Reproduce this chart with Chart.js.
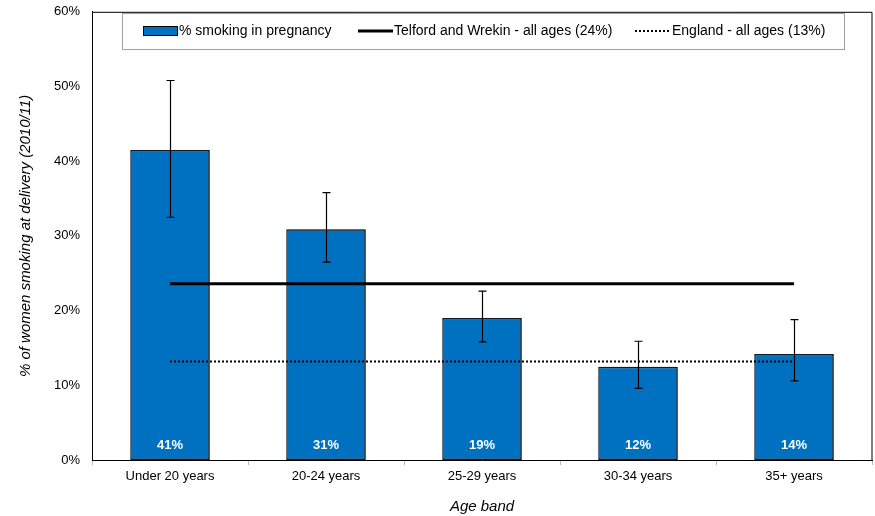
<!DOCTYPE html>
<html>
<head>
<meta charset="utf-8">
<script src="https://cdn.jsdelivr.net/npm/chart.js@4.4.0/dist/chart.umd.min.js"></script>
<style>
  html, body { margin: 0; padding: 0; background: #fff; }
  #wrap { width: 875px; height: 516px; position: relative; }
</style>
</head>
<body>
<div id="wrap"><canvas id="chart"></canvas></div>
<script>
const ageBands = ['Under 20 years', '20-24 years', '25-29 years', '30-34 years', '35+ years'];
const smokingPct = [41.5, 30.9, 19.0, 12.5, 14.2];
const errLow = [32.5, 26.5, 15.8, 9.6, 10.6];
const errHigh = [50.8, 35.8, 22.6, 15.9, 18.8];
const barLabels = ['41%', '31%', '19%', '12%', '14%'];
const telfordAll = [23.6, 23.6, 23.6, 23.6, 23.6];
const englandAll = [13.2, 13.2, 13.2, 13.2, 13.2];
const yTicks = [0, 10, 20, 30, 40, 50, 60];

const FONT = '"Liberation Sans", Arial, sans-serif';
const BLUE = '#0070c0';

// grey drop shadow on the bars, like the original
const barShadow = {
  id: 'barShadow',
  beforeDatasetDraw(chart, args) {
    if (args.index !== 0) return;
    const ctx = chart.ctx;
    ctx.save();
    ctx.shadowColor = 'rgba(0,0,0,0.3)';
    ctx.shadowOffsetX = 2;
    ctx.shadowOffsetY = 0;
    ctx.shadowBlur = 0;
  },
  afterDatasetDraw(chart, args) {
    if (args.index !== 0) return;
    chart.ctx.restore();
  }
};

// error bars + value labels inside bars
const barExtras = {
  id: 'barExtras',
  afterDatasetsDraw(chart) {
    const { ctx, scales: { x, y } } = chart;
    const meta = chart.getDatasetMeta(0);
    ctx.save();
    ctx.strokeStyle = '#000';
    ctx.lineWidth = 1.2;
    meta.data.forEach((bar, i) => {
      const cx = Math.round(bar.x) + 0.5;
      const yt = y.getPixelForValue(errHigh[i]);
      const yb = y.getPixelForValue(errLow[i]);
      ctx.beginPath();
      ctx.moveTo(cx, yt); ctx.lineTo(cx, yb);
      ctx.moveTo(cx - 4, yt); ctx.lineTo(cx + 4, yt);
      ctx.moveTo(cx - 4, yb); ctx.lineTo(cx + 4, yb);
      ctx.stroke();
    });
    ctx.fillStyle = '#fff';
    ctx.font = 'bold 13px ' + FONT;
    ctx.textAlign = 'center';
    ctx.textBaseline = 'middle';
    meta.data.forEach((bar, i) => {
      ctx.fillText(barLabels[i], bar.x, y.getPixelForValue(0) - 15);
    });
    ctx.restore();
  }
};

// plot frame (top/right) and boxed legend
const frameLegend = {
  id: 'frameLegend',
  afterDraw(chart) {
    const { ctx, chartArea: a } = chart;
    ctx.save();
    ctx.strokeStyle = '#000';
    ctx.lineWidth = 1;
    ctx.beginPath();
    ctx.moveTo(a.left, a.top + 0.5); ctx.lineTo(a.right, a.top + 0.5);
    ctx.lineTo(a.right, a.bottom);
    ctx.stroke();

    // legend box
    ctx.fillStyle = '#fff';
    ctx.fillRect(122, 13, 722, 36);
    ctx.strokeStyle = '#a0a0a0';
    ctx.strokeRect(122.5, 13.5, 722, 36);

    const ly = 31;
    ctx.fillStyle = BLUE;
    ctx.fillRect(143, 26, 34, 10);
    ctx.strokeStyle = '#000';
    ctx.lineWidth = 1;
    ctx.strokeRect(143.5, 26.5, 34, 9);

    ctx.lineWidth = 3;
    ctx.beginPath();
    ctx.moveTo(358, ly); ctx.lineTo(393, ly);
    ctx.stroke();

    ctx.lineWidth = 2;
    ctx.setLineDash([2, 2]);
    ctx.beginPath();
    ctx.moveTo(635, ly); ctx.lineTo(670, ly);
    ctx.stroke();
    ctx.setLineDash([]);

    ctx.fillStyle = '#000';
    ctx.font = '14px ' + FONT;
    ctx.textAlign = 'left';
    ctx.textBaseline = 'middle';
    ctx.fillText('% smoking in pregnancy', 179, ly);
    ctx.fillText('Telford and Wrekin - all ages (24%)', 394, ly);
    ctx.fillText('England - all ages (13%)', 672, ly);
    ctx.restore();
  }
};

new Chart(document.getElementById('chart'), {
  data: {
    labels: ageBands,
    datasets: [
      {
        type: 'bar',
        label: '% smoking in pregnancy',
        data: smokingPct,
        backgroundColor: BLUE,
        borderColor: '#0d1a26',
        borderWidth: 1.5,
        borderSkipped: false,
        barPercentage: 0.51,
        categoryPercentage: 1.0,
        order: 2
      },
      {
        type: 'line',
        label: 'Telford and Wrekin - all ages (24%)',
        data: telfordAll,
        borderColor: '#000',
        borderWidth: 3,
        pointRadius: 0,
        fill: false,
        order: 1
      },
      {
        type: 'line',
        label: 'England - all ages (13%)',
        data: englandAll,
        borderColor: '#000',
        borderWidth: 2,
        borderDash: [2, 2],
        pointRadius: 0,
        fill: false,
        order: 1
      }
    ]
  },
  options: {
    responsive: true,
    maintainAspectRatio: false,
    animation: false,
    layout: { padding: { left: 0, right: 3, top: 6, bottom: 0 } },
    plugins: {
      legend: { display: false },
      tooltip: { enabled: false }
    },
    scales: {
      x: {
        offset: true,
        grid: {
          offset: true,
          drawOnChartArea: false,
          drawTicks: true,
          tickLength: 5,
          color: '#bbbbbb'
        },
        border: { display: true, color: '#000', width: 1 },
        ticks: { color: '#000', font: { family: FONT, size: 13 }, padding: 4 },
        title: {
          display: true,
          text: 'Age band',
          color: '#000',
          font: { family: FONT, size: 15, style: 'italic' },
          padding: { top: 17, bottom: 0 }
        },
        afterFit(s) { s.height = 56; }
      },
      y: {
        min: 0,
        max: 60,
        afterBuildTicks(s) { s.ticks = yTicks.map(v => ({ value: v })); },
        grid: { display: false },
        border: { display: true, color: '#000', width: 1 },
        ticks: {
          color: '#000',
          font: { family: FONT, size: 13 },
          padding: 4,
          callback: v => v + '%'
        },
        title: {
          display: true,
          text: '% of women smoking at delivery (2010/11)',
          color: '#000',
          font: { family: FONT, size: 15, style: 'italic' },
          padding: { top: 17, bottom: 0 }
        },
        afterFit(s) { s.width = 92; }
      }
    }
  },
  plugins: [barShadow, barExtras, frameLegend]
});
</script>
</body>
</html>
